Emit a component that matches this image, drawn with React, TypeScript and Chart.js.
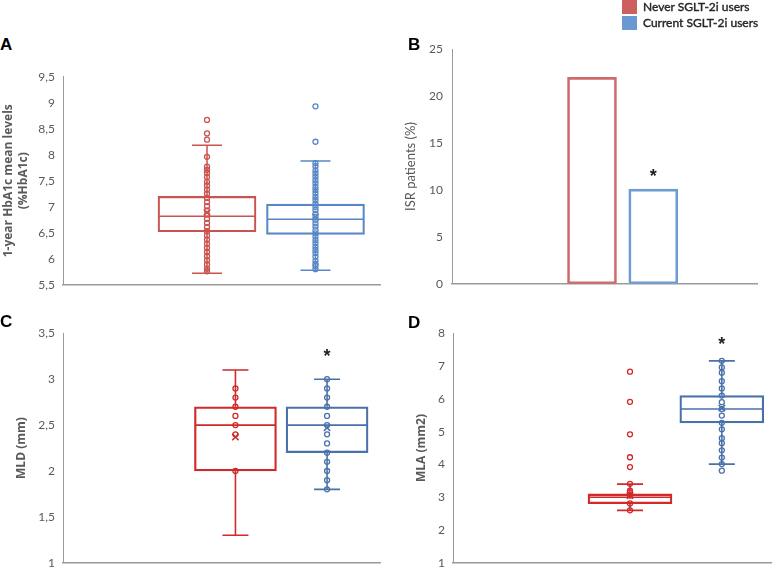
import React, { useEffect, useRef } from 'react';
import { Chart, registerables } from 'chart.js';

Chart.register(...registerables);

// ---------------- data ----------------
const seriesLabels = ['Never SGLT-2i users', 'Current SGLT-2i users'];

// Panel A: 1-year HbA1c mean levels — [min, Q1, median, Q3, max]
const hba1cNeverStats = [5.72, 6.52, 6.82, 7.2, 8.18];
const hba1cCurrentStats = [5.78, 6.47, 6.76, 7.05, 7.88];
const hba1cMeans = [6.89, 6.8];
const hba1cNeverPoints = [8.67, 8.41, 8.29, 7.96, 7.77, 7.71, 7.65, 7.57, 7.48, 7.41, 7.33, 7.25, 7.17, 7.09, 7.01, 6.93, 6.85, 6.77, 6.69, 6.61, 6.53, 6.45, 6.37, 6.29, 6.21, 6.13, 6.05, 5.97, 5.89, 5.81, 5.76];
const hba1cCurrentPoints = [8.93, 8.25, 7.84, 7.78, 7.7, 7.64, 7.58, 7.51, 7.45, 7.38, 7.32, 7.26, 7.19, 7.13, 7.06, 7.0, 6.94, 6.87, 6.81, 6.75, 6.68, 6.62, 6.55, 6.49, 6.43, 6.36, 6.3, 6.23, 6.17, 6.11, 6.04, 5.96, 5.9, 5.86, 5.8];
const hba1cAxis = [5.5, 9.5, 0.5];
const hba1cTitle = ['1-year HbA1c mean levels', '(%HbA1c)'];

// Panel B: ISR patients (%)
const isrPercent = [22, 10.1];
const isrStars = [null, 11.8];
const isrAxis = [0, 25, 5];
const isrTitle = 'ISR patients (%)';

// Panel C: MLD (mm)
const mldNeverStats = [1.3, 2.0, 2.5, 2.7, 3.1];
const mldCurrentStats = [1.8, 2.2, 2.5, 2.7, 3.0];
const mldMeans = [2.37, 2.47];
const mldNeverPoints = [2.9, 2.8, 2.7, 2.6, 2.5, 2.4, 2.0];
const mldCurrentPoints = [3.0, 2.9, 2.8, 2.7, 2.6, 2.5, 2.4, 2.3, 2.2, 2.1, 2.0, 1.9, 1.8];
const mldStars = [null, 3.29];
const mldAxis = [1, 3.5, 0.5];
const mldTitle = 'MLD (mm)';

// Panel D: MLA (mm2)
const mlaNeverStats = [2.6, 2.8, 3.0, 3.1, 3.4];
const mlaCurrentStats = [4.01, 5.27, 5.69, 6.1, 7.16];
const mlaMeans = [3.05, 5.72];
const mlaNeverPoints = [6.83, 5.91, 4.92, 4.22, 3.92, 3.41, 3.2, 3.15, 3.05, 2.81, 2.6];
const mlaCurrentPoints = [7.16, 6.96, 6.8, 6.54, 6.32, 6.1, 5.9, 5.69, 5.49, 5.27, 5.07, 4.8, 4.65, 4.43, 4.21, 4.01, 3.81];
const mlaStars = [null, 7.75];
const mlaAxis = [1, 8, 1];
const mlaTitle = 'MLA (mm2)';

// ---------------- styles ----------------
const TICK_COLOR = '#595959';
const FONT = 'Lato';

function yScale(axis: number[], axisWidth: number, title: any, bold: boolean, titlePad: number, lineHeight: number, tickPad: number) {
  return {
    type: 'linear',
    min: axis[0],
    max: axis[1],
    ticks: {
      stepSize: axis[2],
      color: TICK_COLOR,
      font: { family: FONT, size: 12 },
      padding: tickPad,
      callback: (v: any) => String(v).replace('.', ','),
    },
    grid: { display: false, drawTicks: false },
    border: { display: true, color: '#9a9a9a', width: 1 },
    title: {
      display: true,
      text: title,
      color: TICK_COLOR,
      font: bold
        ? { family: '"Open Sans"', size: 12, weight: 'bold', lineHeight }
        : { family: FONT, size: 13, weight: 'normal', lineHeight },
      padding: { top: titlePad, bottom: 0 },
    },
    afterFit: (s: any) => {
      s.width = axisWidth;
    },
  };
}

function xScale() {
  return {
    type: 'linear',
    min: 0,
    max: 1,
    offset: false,
    ticks: { display: false },
    grid: { display: false, drawTicks: false },
    border: { display: true, color: '#9a9a9a', width: 1.5 },
    afterFit: (s: any) => {
      s.height = 0;
    },
  };
}

function whiskerPlugin(stats: number[][], xPos: number[], boxWidth: number, capHalf: number, colors: string[], lw: number) {
  return {
    id: 'whiskers',
    beforeDatasetsDraw(chart: any) {
      const { ctx } = chart;
      const x = chart.scales.x;
      const y = chart.scales.y;
      stats.forEach((s, i) => {
        const cx = x.getPixelForValue(xPos[i]);
        const mn = y.getPixelForValue(s[0]);
        const q1 = y.getPixelForValue(s[1]);
        const md = y.getPixelForValue(s[2]);
        const q3 = y.getPixelForValue(s[3]);
        const mx = y.getPixelForValue(s[4]);
        ctx.save();
        ctx.strokeStyle = colors[i];
        ctx.lineWidth = lw;
        ctx.beginPath();
        ctx.moveTo(cx, mx);
        ctx.lineTo(cx, q3);
        ctx.moveTo(cx, q1);
        ctx.lineTo(cx, mn);
        ctx.moveTo(cx - capHalf, mx);
        ctx.lineTo(cx + capHalf, mx);
        ctx.moveTo(cx - capHalf, mn);
        ctx.lineTo(cx + capHalf, mn);
        ctx.moveTo(cx - boxWidth / 2 + lw / 2, md);
        ctx.lineTo(cx + boxWidth / 2 - lw / 2, md);
        ctx.stroke();
        ctx.restore();
      });
    },
  };
}

function starPlugin(stars: (number | null)[], xPos: number[]) {
  return {
    id: 'stars',
    afterDatasetsDraw(chart: any) {
      const { ctx } = chart;
      const x = chart.scales.x;
      const y = chart.scales.y;
      stars.forEach((v, i) => {
        if (v == null) return;
        ctx.save();
        ctx.fillStyle = '#222222';
        ctx.font = 'bold 18px "Liberation Sans"';
        ctx.textAlign = 'center';
        ctx.textBaseline = 'middle';
        ctx.fillText('*', x.getPixelForValue(xPos[i]), y.getPixelForValue(v) + 4);
        ctx.restore();
      });
    },
  };
}

type BoxCfg = {
  stats: number[][];
  means: number[];
  points: number[][];
  stars: (number | null)[];
  axis: number[];
  title: any;
  xPos: number[];
  boxWidth: number;
  capHalf: number;
  colors: string[];
  axisWidth: number;
  pad: { top: number; bottom: number; right: number };
  titlePad: number;
  lineHeight: number;
  lw: number;
};

function buildBox(c: BoxCfg) {
  const datasets: any[] = [
    {
      type: 'bar',
      label: 'box',
      data: c.stats.map((s, i) => ({ x: c.xPos[i], y: [s[1], s[3]] })),
      borderColor: c.colors,
      backgroundColor: 'rgba(0,0,0,0)',
      borderWidth: c.lw,
      borderSkipped: false,
      barThickness: c.boxWidth,
      order: 2,
    },
  ];
  c.points.forEach((p, i) => {
    datasets.push({
      type: 'scatter',
      label: seriesLabels[i],
      data: p.map((v) => ({ x: c.xPos[i], y: v })),
      pointStyle: 'circle',
      pointRadius: 2.5,
      pointBorderWidth: 1.3,
      pointBorderColor: c.colors[i],
      pointBackgroundColor: 'rgba(0,0,0,0)',
      borderColor: c.colors[i],
      order: 1,
    });
  });
  datasets.push({
    type: 'scatter',
    label: 'mean',
    data: c.means.map((v, i) => ({ x: c.xPos[i], y: v })),
    pointStyle: 'crossRot',
    pointRadius: 4.5,
    pointBorderWidth: 1.6,
    pointBorderColor: c.colors,
    borderColor: c.colors,
    order: 0,
  });
  return {
    type: 'bar',
    data: { datasets },
    options: {
      responsive: false,
      animation: false,
      events: [],
      layout: { padding: { top: c.pad.top, bottom: c.pad.bottom, right: c.pad.right, left: 0 } },
      plugins: { legend: { display: false }, tooltip: { enabled: false } },
      scales: {
        x: xScale(),
        y: yScale(c.axis, c.axisWidth, c.title, true, c.titlePad, c.lineHeight, 8),
      },
    },
    plugins: [whiskerPlugin(c.stats, c.xPos, c.boxWidth, c.capHalf, c.colors, c.lw), starPlugin(c.stars, c.xPos)],
  };
}

function buildBars() {
  const xPos = [0.459, 0.66];
  return {
    type: 'bar',
    data: {
      datasets: [
        {
          label: 'ISR',
          data: isrPercent.map((v, i) => ({ x: xPos[i], y: v })),
          borderColor: ['#d06a6a', '#6e9bd2'],
          backgroundColor: 'rgba(0,0,0,0)',
          borderWidth: 2,
          borderSkipped: false,
          barThickness: 49,
        },
      ],
    },
    options: {
      responsive: false,
      animation: false,
      events: [],
      layout: { padding: { top: 19.3, bottom: 13.3, right: 21, left: 0 } },
      plugins: { legend: { display: false }, tooltip: { enabled: false } },
      scales: {
        x: xScale(),
        y: yScale(isrAxis, 62, isrTitle, false, 13, 1.2, 9),
      },
    },
    plugins: [starPlugin(isrStars, xPos)],
  };
}

function ChartCanvas({ build, left, top, width, height }: { build: () => any; left: number; top: number; width: number; height: number }) {
  const ref = useRef<HTMLCanvasElement>(null);
  useEffect(() => {
    const chart = new Chart(ref.current as HTMLCanvasElement, build());
    return () => chart.destroy();
  }, []);
  return (
    <div style={{ position: 'absolute', left, top, width, height }}>
      <canvas ref={ref} width={width} height={height} style={{ display: 'block', width, height }} />
    </div>
  );
}

const letterStyle: React.CSSProperties = {
  position: 'absolute',
  font: 'bold 17px "Liberation Sans", Arial, sans-serif',
  lineHeight: '17px',
  color: '#000',
};

const legendText: React.CSSProperties = {
  position: 'absolute',
  left: 643,
  font: '12px Lato, sans-serif',
  lineHeight: '16px',
  color: '#262626',
  whiteSpace: 'nowrap',
  WebkitTextStroke: '0.4px #262626',
};

const RED_A = '#c9534f';
const BLUE_A = '#5887c6';
const RED_C = '#d02a2a';
const BLUE_C = '#4a72aa';

export default function App() {
  return (
    <div style={{ position: 'absolute', left: 0, top: 0, width: 778, height: 571, overflow: 'hidden', background: '#fff' }}>
      <ChartCanvas
        left={0}
        top={60}
        width={390}
        height={240}
        build={() =>
          buildBox({
            stats: [hba1cNeverStats, hba1cCurrentStats],
            means: hba1cMeans,
            points: [hba1cNeverPoints, hba1cCurrentPoints],
            stars: [null, null],
            axis: hba1cAxis,
            title: hba1cTitle,
            xPos: [0.4543, 0.7965],
            boxWidth: 98,
            capHalf: 15,
            colors: [RED_A, BLUE_A],
            axisWidth: 63,
            pad: { top: 16.7, bottom: 15, right: 10 },
            titlePad: 1,
            lineHeight: 1.25,
            lw: 1.5,
          })
        }
      />
      <ChartCanvas left={390} top={30} width={388} height={270} build={buildBars} />
      <ChartCanvas
        left={0}
        top={310}
        width={390}
        height={268}
        build={() =>
          buildBox({
            stats: [mldNeverStats, mldCurrentStats],
            means: mldMeans,
            points: [mldNeverPoints, mldCurrentPoints],
            stars: mldStars,
            axis: mldAxis,
            title: mldTitle,
            xPos: [0.544, 0.833],
            boxWidth: 82,
            capHalf: 13,
            colors: [RED_C, BLUE_C],
            axisWidth: 63,
            pad: { top: 23.3, bottom: 12, right: 10 },
            titlePad: 14,
            lineHeight: 1.3,
            lw: 1.6,
          })
        }
      />
      <ChartCanvas
        left={390}
        top={310}
        width={388}
        height={268}
        build={() =>
          buildBox({
            stats: [mlaNeverStats, mlaCurrentStats],
            means: mlaMeans,
            points: [mlaNeverPoints, mlaCurrentPoints],
            stars: mlaStars,
            axis: mlaAxis,
            title: mlaTitle,
            xPos: [0.555, 0.843],
            boxWidth: 84,
            capHalf: 13,
            colors: [RED_C, BLUE_C],
            axisWidth: 63,
            pad: { top: 23.3, bottom: 12, right: 6 },
            titlePad: 24,
            lineHeight: 1.3,
            lw: 1.6,
          })
        }
      />
      <div style={{ ...letterStyle, left: 0, top: 36 }}>A</div>
      <div style={{ ...letterStyle, left: 408, top: 36 }}>B</div>
      <div style={{ ...letterStyle, left: 0, top: 313 }}>C</div>
      <div style={{ ...letterStyle, left: 408, top: 314 }}>D</div>
      <div style={{ position: 'absolute', left: 622, top: 0, width: 15, height: 14, background: '#cd5f5f' }} />
      <div style={{ position: 'absolute', left: 622, top: 16, width: 15, height: 14, background: '#6a98d0' }} />
      <div style={{ ...legendText, top: -1 }}>{seriesLabels[0]}</div>
      <div style={{ ...legendText, top: 15 }}>{seriesLabels[1]}</div>
    </div>
  );
}
